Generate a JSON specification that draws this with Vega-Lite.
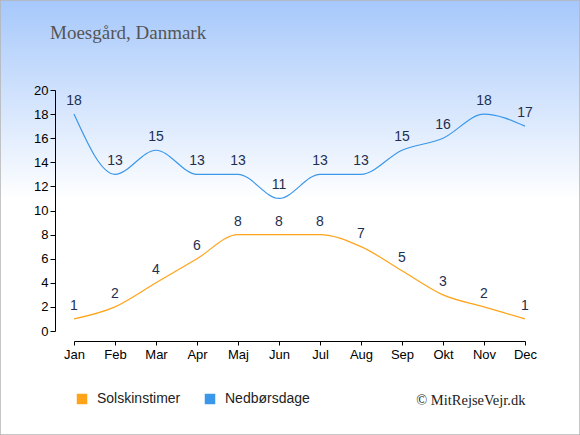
{
  "$schema": "https://vega.github.io/schema/vega-lite/v6.json",
  "width": 451,
  "height": 241,
  "autosize": "none",
  "padding": {"left": 74, "top": 90, "right": 55, "bottom": 104},
  "background": "white",
  "config": {
    "view": {"stroke": null},
    "font": "Liberation Sans"
  },
  "title": {
    "text": "Moesgård, Danmark",
    "font": "Liberation Serif",
    "fontSize": 19,
    "fontWeight": "normal",
    "color": "#555555",
    "anchor": "start",
    "frame": "group",
    "dx": -24,
    "offset": -44,
    "zindex": 1
  },
  "data": {
    "values": [
      {"month": "Jan", "serie": "Solskinstimer", "value": 1},
      {"month": "Feb", "serie": "Solskinstimer", "value": 2},
      {"month": "Mar", "serie": "Solskinstimer", "value": 4},
      {"month": "Apr", "serie": "Solskinstimer", "value": 6},
      {"month": "Maj", "serie": "Solskinstimer", "value": 8},
      {"month": "Jun", "serie": "Solskinstimer", "value": 8},
      {"month": "Jul", "serie": "Solskinstimer", "value": 8},
      {"month": "Aug", "serie": "Solskinstimer", "value": 7},
      {"month": "Sep", "serie": "Solskinstimer", "value": 5},
      {"month": "Okt", "serie": "Solskinstimer", "value": 3},
      {"month": "Nov", "serie": "Solskinstimer", "value": 2},
      {"month": "Dec", "serie": "Solskinstimer", "value": 1},
      {"month": "Jan", "serie": "Nedbørsdage", "value": 18},
      {"month": "Feb", "serie": "Nedbørsdage", "value": 13},
      {"month": "Mar", "serie": "Nedbørsdage", "value": 15},
      {"month": "Apr", "serie": "Nedbørsdage", "value": 13},
      {"month": "Maj", "serie": "Nedbørsdage", "value": 13},
      {"month": "Jun", "serie": "Nedbørsdage", "value": 11},
      {"month": "Jul", "serie": "Nedbørsdage", "value": 13},
      {"month": "Aug", "serie": "Nedbørsdage", "value": 13},
      {"month": "Sep", "serie": "Nedbørsdage", "value": 15},
      {"month": "Okt", "serie": "Nedbørsdage", "value": 16},
      {"month": "Nov", "serie": "Nedbørsdage", "value": 18},
      {"month": "Dec", "serie": "Nedbørsdage", "value": 17}
    ]
  },
  "layer": [
    {
      "data": {"values": [{}]},
      "mark": {
        "type": "rect",
        "x": -74,
        "x2": 506,
        "y": -90,
        "y2": 345,
        "stroke": "#b4b4b4",
        "strokeWidth": 1.5,
        "fill": {
          "gradient": "linear",
          "x1": 0, "y1": 0, "x2": 0, "y2": 1,
          "stops": [
            {"offset": 0, "color": "#a6c8fb"},
            {"offset": 0.46, "color": "#ffffff"},
            {"offset": 1, "color": "#ffffff"}
          ]
        }
      }
    },
    {
      "mark": {"type": "line", "interpolate": "monotone", "strokeWidth": 1.2},
      "encoding": {
        "x": {
          "field": "month",
          "type": "ordinal",
          "sort": ["Jan", "Feb", "Mar", "Apr", "Maj", "Jun", "Jul", "Aug", "Sep", "Okt", "Nov", "Dec"],
          "scale": {"type": "point", "padding": 0},
          "axis": {
            "zindex": 2,
            "grid": false,
            "domainColor": "black",
            "tickColor": "black",
            "labelColor": "black",
            "labelFontSize": 13,
            "labelAngle": 0,
            "offset": 10,
            "tickSize": 4,
            "labelPadding": 3,
            "title": "© MitRejseVejr.dk",
            "titleFont": "Liberation Serif",
            "titleFontSize": 14.5,
            "titleFontWeight": "normal",
            "titleColor": "#222222",
            "titleAnchor": "end",
            "titleAlign": "right",
            "titleBaseline": "alphabetic",
            "titleX": 451,
            "titleY": 63
          }
        },
        "y": {
          "field": "value",
          "type": "quantitative",
          "scale": {"domain": [0, 20], "nice": false},
          "axis": {
            "zindex": 2,
            "grid": false,
            "domainColor": "black",
            "tickColor": "black",
            "labelColor": "black",
            "labelFontSize": 13,
            "labelOverlap": false,
            "labelFlush": false,
            "tickSize": 5,
            "values": [0, 2, 4, 6, 8, 10, 12, 14, 16, 18, 20],
            "offset": 19,
            "labelPadding": 2,
            "title": null
          }
        },
        "color": {
          "field": "serie",
          "type": "nominal",
          "scale": {"domain": ["Solskinstimer", "Nedbørsdage"], "range": ["#ffa31a", "#3a97ea"]},
          "legend": {
            "title": null,
            "orient": "none",
            "direction": "horizontal",
            "legendX": 1,
            "legendY": 302,
            "symbolType": "square",
            "symbolSize": 110,
            "symbolStrokeWidth": 0,
            "symbolOpacity": 1,
            "labelFontSize": 14,
            "labelColor": "#222222",
            "labelOffset": 8,
            "columnPadding": 22,
            "zindex": 1,
            "encode": {
              "symbols": {
                "update": {
                  "fill": {"scale": "color", "field": "value"},
                  "stroke": {"value": "transparent"}
                }
              }
            }
          }
        }
      }
    },
    {
      "mark": {"type": "text", "dy": -13, "fontSize": 14, "color": "#1e2f4f"},
      "encoding": {
        "x": {
          "field": "month",
          "type": "ordinal",
          "sort": ["Jan", "Feb", "Mar", "Apr", "Maj", "Jun", "Jul", "Aug", "Sep", "Okt", "Nov", "Dec"],
          "scale": {"type": "point", "padding": 0},
          "axis": {
            "zindex": 2,
            "grid": false,
            "domainColor": "black",
            "tickColor": "black",
            "labelColor": "black",
            "labelFontSize": 13,
            "labelAngle": 0,
            "offset": 10,
            "tickSize": 4,
            "labelPadding": 3,
            "title": "© MitRejseVejr.dk",
            "titleFont": "Liberation Serif",
            "titleFontSize": 14.5,
            "titleFontWeight": "normal",
            "titleColor": "#222222",
            "titleAnchor": "end",
            "titleAlign": "right",
            "titleBaseline": "alphabetic",
            "titleX": 451,
            "titleY": 63
          }
        },
        "y": {
          "field": "value",
          "type": "quantitative",
          "scale": {"domain": [0, 20], "nice": false},
          "axis": {
            "zindex": 2,
            "grid": false,
            "domainColor": "black",
            "tickColor": "black",
            "labelColor": "black",
            "labelFontSize": 13,
            "labelOverlap": false,
            "labelFlush": false,
            "tickSize": 5,
            "values": [0, 2, 4, 6, 8, 10, 12, 14, 16, 18, 20],
            "offset": 19,
            "labelPadding": 2,
            "title": null
          }
        },
        "text": {"field": "value", "type": "quantitative"}
      }
    }
  ]
}
